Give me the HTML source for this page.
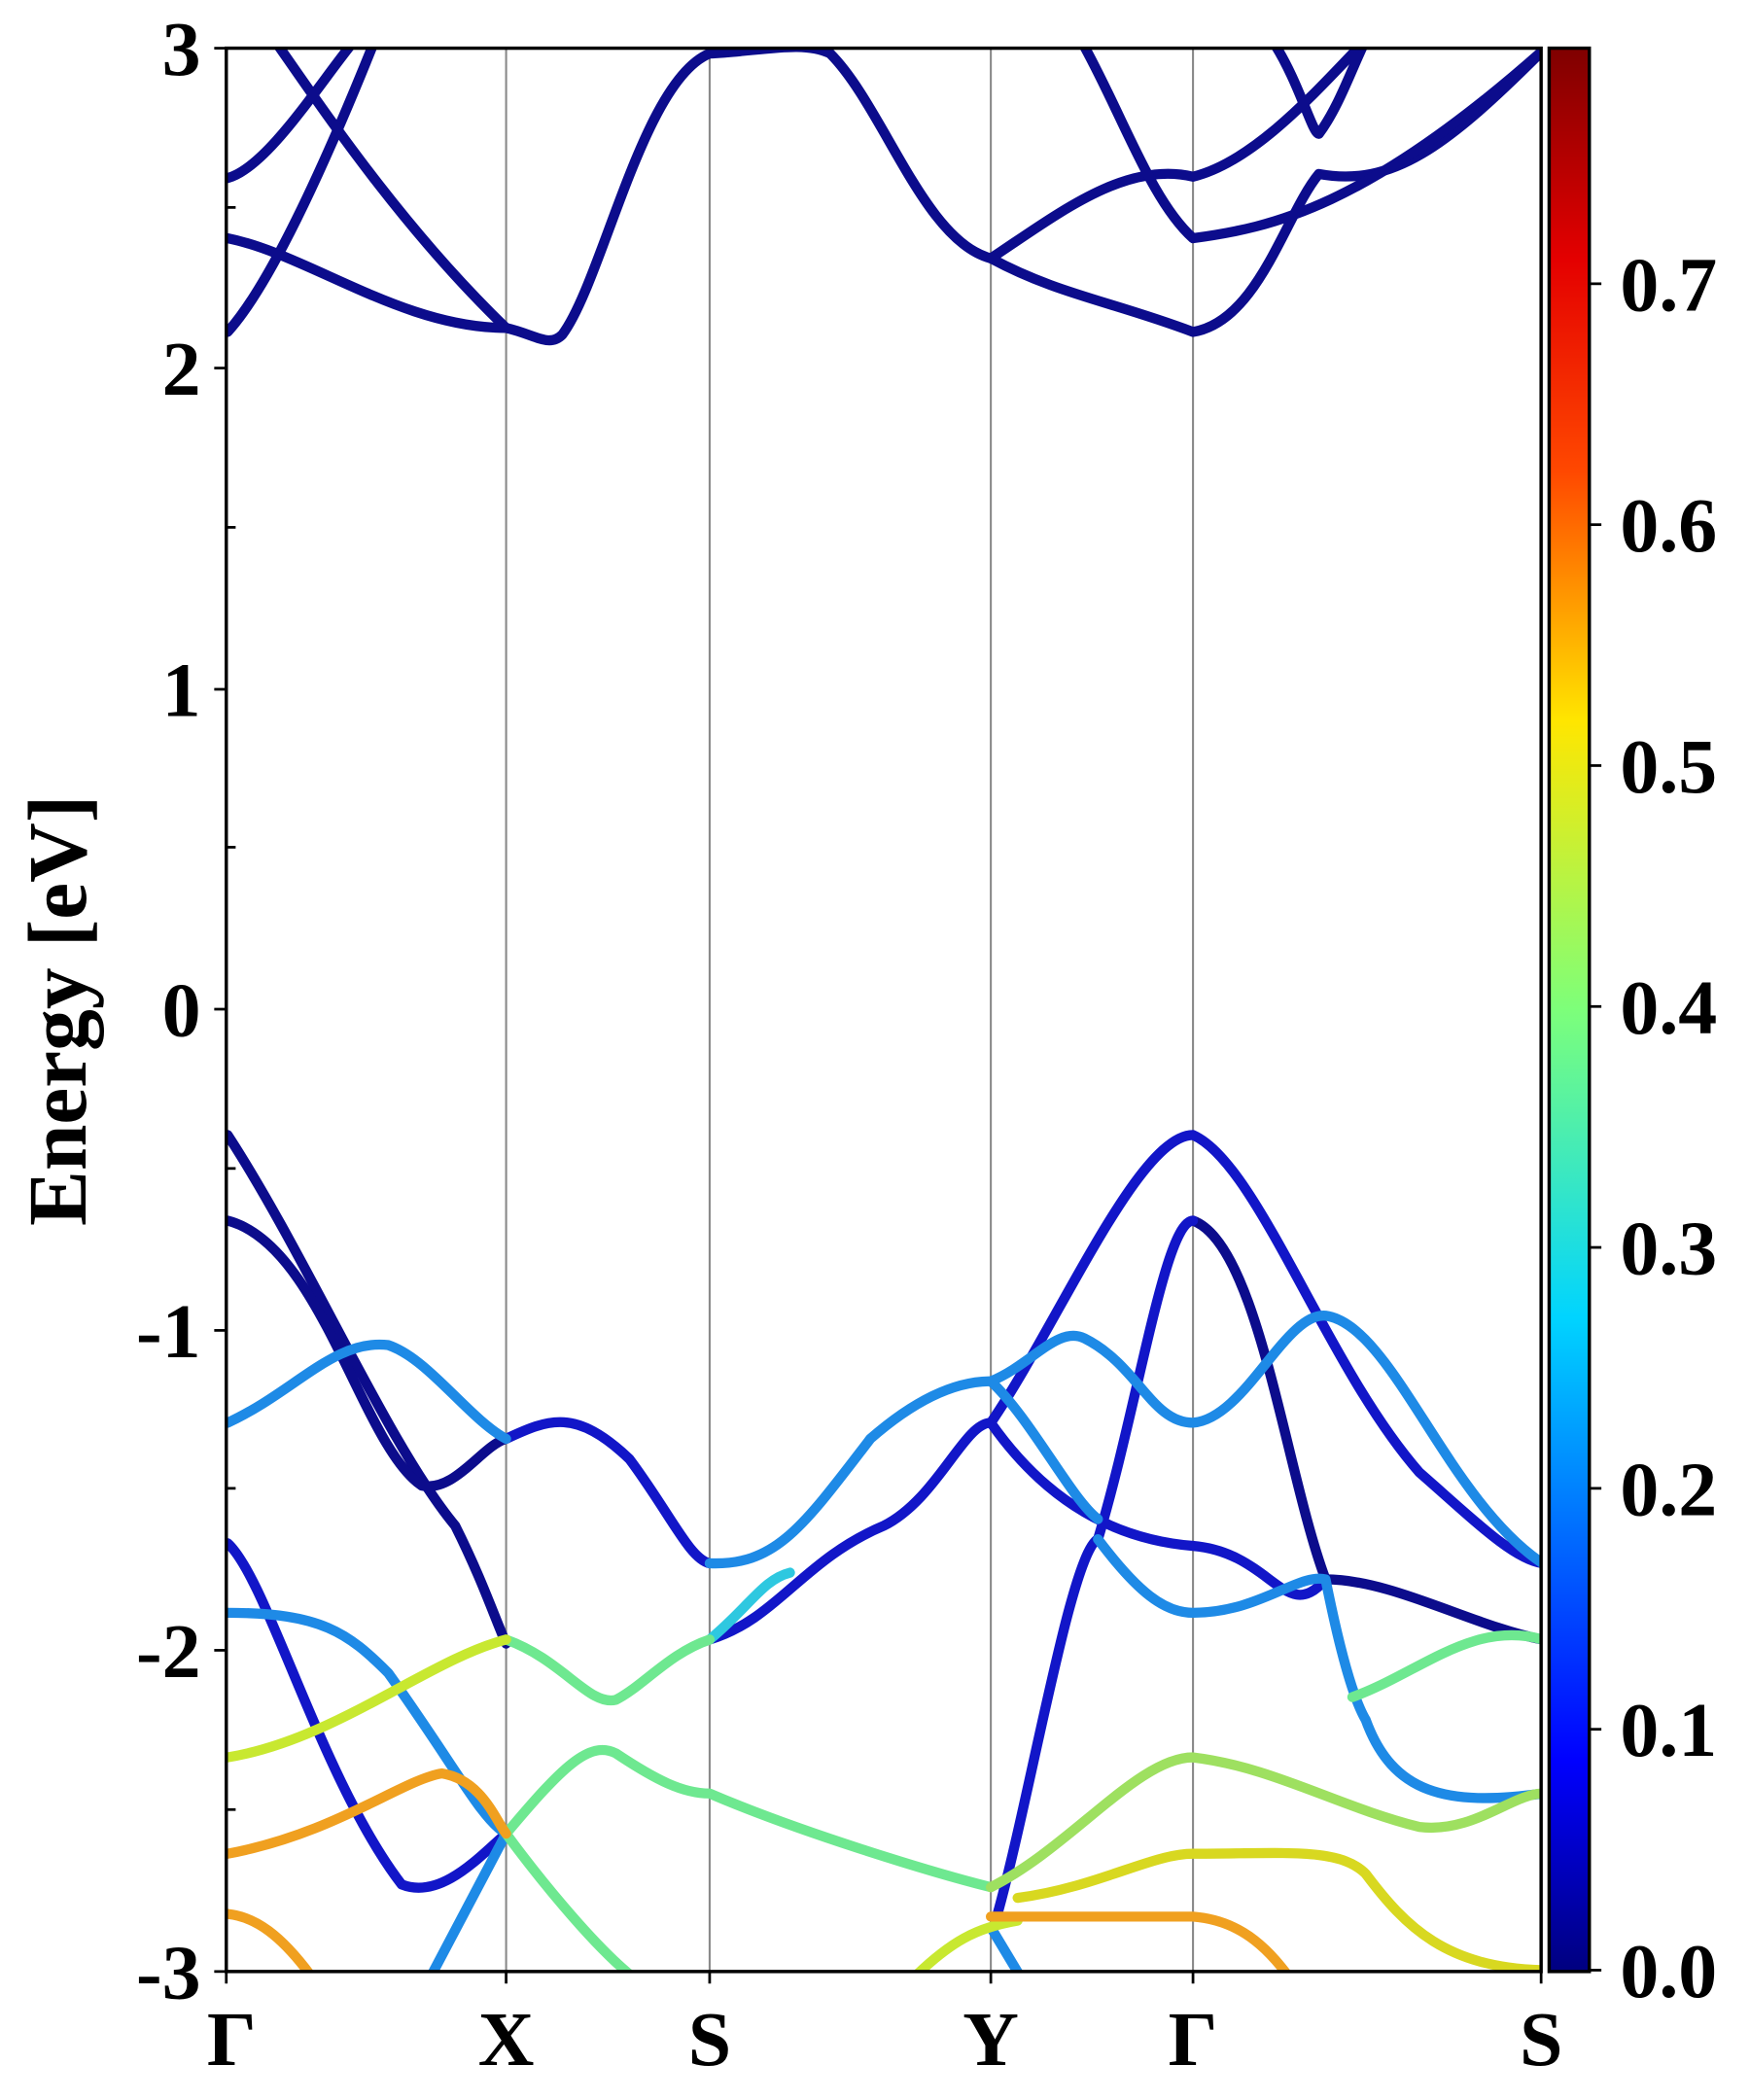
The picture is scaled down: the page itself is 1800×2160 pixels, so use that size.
<!DOCTYPE html>
<html><head><meta charset="utf-8"><style>html,body{margin:0;padding:0;background:#fff}svg{display:block}</style></head>
<body>
<svg width="1800" height="2160" viewBox="0 0 1307 1569" preserveAspectRatio="none" xmlns="http://www.w3.org/2000/svg" font-family="Liberation Serif, serif" font-weight="bold">
<defs>
<linearGradient id="jet" x1="0" y1="1" x2="0" y2="0">
<stop offset="0" stop-color="#00007f"/><stop offset="0.11" stop-color="#0000ff"/><stop offset="0.34" stop-color="#00d4ff"/><stop offset="0.5" stop-color="#7dff7a"/><stop offset="0.65" stop-color="#ffe600"/><stop offset="0.78" stop-color="#ff4800"/><stop offset="0.89" stop-color="#e40000"/><stop offset="1" stop-color="#7f0000"/>
</linearGradient>
<clipPath id="c"><rect x="169" y="36" width="982" height="1437"/></clipPath>
</defs>
<g stroke="#888" stroke-width="1.5">
<line x1="378" y1="36" x2="378" y2="1473"/><line x1="530" y1="36" x2="530" y2="1473"/><line x1="740" y1="36" x2="740" y2="1473"/><line x1="891" y1="36" x2="891" y2="1473"/>
</g>
<g clip-path="url(#c)" fill="none" stroke-width="7.5" stroke-linecap="round" stroke-linejoin="round">
<g stroke="#0c0c8c">
<path d="M170,248 C200,215 240,130 280,30"/>
<path d="M170,133 C200,125 240,60 265,30"/>
<path d="M170,178 C230,190 300,245 378,245 C400,250 410,260 420,250 C450,210 480,60 530,40 C570,38 600,30 620,40 C660,80 690,180 740,193"/>
<path d="M205,30 C240,80 300,170 378,245"/>
<path d="M740,193 C790,160 840,120 891,132 C940,120 990,60 1020,30"/>
<path d="M740,193 C790,220 830,225 891,248 C940,240 960,160 985,130 C1040,140 1080,110 1152,38"/>
<path d="M810,35 C840,90 860,150 891,178 C950,170 1020,155 1152,38"/>
<path d="M950,30 C970,60 980,100 985,100 C1000,80 1010,50 1020,30"/>
<path d="M170,848 C230,940 290,1080 340,1140 C360,1180 370,1210 378,1228"/>
<path d="M170,912 C240,930 270,1080 315,1110 C340,1115 360,1080 378,1075"/>
<path d="M891,912 C940,930 960,1100 990,1180 C1040,1180 1100,1215 1152,1225"/>
</g>
<g stroke="#1216c8">
<path d="M378,1075 C410,1060 430,1052 470,1090 C500,1130 515,1165 530,1168"/>
<path d="M530,1225 C580,1210 600,1165 660,1140 C700,1120 720,1063 740,1063 C790,990 850,848 891,848 C940,870 990,1020 1060,1100 C1100,1135 1130,1165 1152,1168"/>
<path d="M740,1063 C780,1120 830,1150 891,1155 C950,1160 960,1215 990,1180"/>
<path d="M745,1430 C770,1340 800,1160 820,1150 C850,1050 870,912 891,912"/>
<path d="M170,1153 C200,1180 240,1330 300,1408 C330,1420 360,1385 378,1370"/>
</g>
<g stroke="#1e8ae6">
<path d="M170,1063 C220,1040 250,1000 290,1005 C320,1015 350,1060 378,1075"/>
<path d="M530,1168 C580,1170 600,1140 650,1075 C690,1040 720,1032 740,1032 C770,1020 790,990 810,1000 C850,1020 860,1063 891,1063 C930,1060 960,980 990,983 C1040,990 1080,1120 1152,1168"/>
<path d="M740,1032 C770,1060 800,1120 820,1135"/>
<path d="M170,1205 C240,1205 260,1220 290,1250 C340,1320 360,1360 378,1370 L320,1480"/>
<path d="M820,1150 C850,1190 870,1205 891,1205 C940,1205 970,1175 990,1180 C1000,1230 1010,1268 1020,1285 C1040,1340 1080,1350 1152,1340"/>
<path d="M740,1440 L770,1490" />
</g>
<g stroke="#2ec8e0"><path d="M530,1225 C560,1200 570,1180 590,1175"/></g>
<g stroke="#6ee890"><path d="M378,1225 C420,1240 440,1275 460,1270 C480,1260 500,1235 530,1225"/>
<path d="M1010,1268 C1060,1250 1100,1210 1152,1225"/>
<path d="M378,1370 C420,1320 440,1300 460,1310 C490,1330 510,1340 530,1340 C600,1370 700,1400 740,1410"/>
<path d="M378,1370 C400,1400 440,1450 470,1475"/></g>
<g stroke="#c8e830"><path d="M170,1313 C250,1300 320,1240 378,1225"/>
<path d="M740,1410 C800,1380 850,1313 891,1313 C950,1320 1000,1350 1060,1365 C1100,1370 1130,1340 1152,1340" stroke="#9ee060"/>
<path d="M760,1418 C820,1410 860,1385 891,1385 C960,1385 1000,1380 1020,1400 C1050,1440 1080,1470 1152,1472" stroke="#d8d820"/>
<path d="M680,1480 C710,1450 730,1440 760,1435" stroke="#c8e830"/></g>
<g stroke="#f0a020"><path d="M170,1385 C250,1370 300,1330 330,1325 C360,1330 370,1360 378,1370"/>
<path d="M740,1432 L891,1432 C930,1435 950,1460 965,1480"/>
<path d="M170,1430 C190,1432 210,1445 235,1480"/></g>
</g>
<rect x="169" y="36" width="982" height="1437" fill="none" stroke="#000" stroke-width="2.5"/>
<g stroke="#000" stroke-width="2">
<line x1="169" y1="155" x2="176" y2="155"/><line x1="169" y1="394" x2="176" y2="394"/><line x1="169" y1="633" x2="176" y2="633"/><line x1="169" y1="873" x2="176" y2="873"/><line x1="169" y1="1112" x2="176" y2="1112"/><line x1="169" y1="1352" x2="176" y2="1352"/>
<line x1="160" y1="36" x2="169" y2="36"/><line x1="160" y1="275" x2="169" y2="275"/><line x1="160" y1="515" x2="169" y2="515"/><line x1="160" y1="754" x2="169" y2="754"/><line x1="160" y1="994" x2="169" y2="994"/><line x1="160" y1="1233" x2="169" y2="1233"/><line x1="160" y1="1473" x2="169" y2="1473"/>
<line x1="169" y1="1473" x2="169" y2="1482"/><line x1="378" y1="1473" x2="378" y2="1482"/><line x1="530" y1="1473" x2="530" y2="1482"/><line x1="740" y1="1473" x2="740" y2="1482"/><line x1="891" y1="1473" x2="891" y2="1482"/><line x1="1151" y1="1473" x2="1151" y2="1482"/>
</g>
<g font-size="58" text-anchor="end">
<text x="150" y="56">3</text><text x="150" y="295">2</text><text x="150" y="535">1</text><text x="150" y="774">0</text><text x="150" y="1014">-1</text><text x="150" y="1253">-2</text><text x="150" y="1493">-3</text>
</g>
<g font-size="58" text-anchor="middle">
<text x="173" y="1543">Γ</text><text x="378" y="1543">X</text><text x="530" y="1543">S</text><text x="740" y="1543">Y</text><text x="891" y="1543">Γ</text><text x="1151" y="1543">S</text>
</g>
<text transform="translate(64,755) rotate(-90)" font-size="62" text-anchor="middle">Energy [eV]</text>
<rect x="1157" y="36" width="30" height="1437" fill="url(#jet)" stroke="#000" stroke-width="2.5"/>
<g stroke="#000" stroke-width="2">
<line x1="1187" y1="1472" x2="1196" y2="1472"/><line x1="1187" y1="1292" x2="1196" y2="1292"/><line x1="1187" y1="1112" x2="1196" y2="1112"/><line x1="1187" y1="932" x2="1196" y2="932"/><line x1="1187" y1="752" x2="1196" y2="752"/><line x1="1187" y1="572" x2="1196" y2="572"/><line x1="1187" y1="392" x2="1196" y2="392"/><line x1="1187" y1="212" x2="1196" y2="212"/>
</g>
<g font-size="58">
<text x="1210" y="1492">0.0</text><text x="1210" y="1312">0.1</text><text x="1210" y="1132">0.2</text><text x="1210" y="952">0.3</text><text x="1210" y="772">0.4</text><text x="1210" y="592">0.5</text><text x="1210" y="412">0.6</text><text x="1210" y="232">0.7</text>
</g>
</svg>
</body></html>
